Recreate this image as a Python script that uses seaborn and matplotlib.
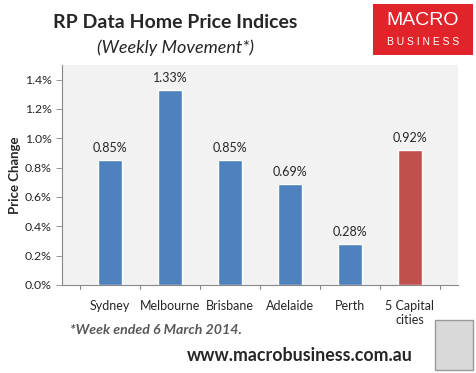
import matplotlib
matplotlib.use("Agg")
import matplotlib.pyplot as plt
from matplotlib.patches import Rectangle
import seaborn as sns
import pandas as pd

# --- data ---
cities = ["Sydney", "Melbourne", "Brisbane", "Adelaide", "Perth", "5 Capital\ncities"]
changes = [0.85, 1.33, 0.85, 0.69, 0.28, 0.92]
bar_colors = ["#4F81BD", "#4F81BD", "#4F81BD", "#4F81BD", "#4F81BD", "#C0504D"]
yticks = [0.0, 0.2, 0.4, 0.6, 0.8, 1.0, 1.2, 1.4]

df = pd.DataFrame({"city": cities, "change": changes})

sns.set_theme(style="white")
plt.rcParams["font.family"] = ["Lato", "DejaVu Sans"]

fig = plt.figure(figsize=(4.77, 3.73), dpi=100)
ax = fig.add_axes([0.130, 0.236, 0.830, 0.590])

sns.barplot(data=df, x="city", y="change", hue="city", palette=bar_colors,
            width=0.4, legend=False, ax=ax, saturation=1)

ax.set_facecolor("#F2F2F2")
ax.set_ylim(0, 1.5)
ax.set_yticks(yticks)
ax.set_yticklabels([f"{v:.1f}%" for v in yticks], fontsize=8.8)
ax.set_xlabel("")
ax.set_ylabel("Price Change", fontsize=9.5, fontweight="bold", labelpad=3)
ax.tick_params(axis="x", labelsize=9, length=0, pad=11)
ax.tick_params(axis="y", length=4, direction="out", left=True, width=0.6, color="#888888")

for s in ["top", "right"]:
    ax.spines[s].set_visible(False)
for s in ["left", "bottom"]:
    ax.spines[s].set_color("#888888")
    ax.spines[s].set_linewidth(0.8)

# little category tick marks between bars
for i in range(len(cities) + 1):
    ax.plot([i - 0.5, i - 0.5], [0, -0.03], color="#888888", lw=0.8,
            clip_on=False)

for i, v in enumerate(changes):
    ax.text(i, v + 0.04, f"{v:.2f}%", ha="center", va="bottom", fontsize=9)

# titles
fig.text(0.367, 0.94, "RP Data Home Price Indices", ha="center", va="center",
         fontsize=14, fontweight="bold")
fig.text(0.367, 0.873, "(Weekly Movement*)", ha="center", va="center",
         fontsize=13, style="italic")

# logo box
fig.patches.append(Rectangle((0.782, 0.852), 0.210, 0.138, transform=fig.transFigure,
                             facecolor="#E0242A", edgecolor="none"))
fig.text(0.887, 0.945, "MACRO", ha="center", va="center", color="white",
         fontsize=14, family=["Liberation Sans"])
fig.text(0.887, 0.888, "B U S I N E S S", ha="center", va="center", color="white",
         fontsize=7.5, family=["Liberation Sans"])

# footnote and url
fig.text(0.147, 0.115, "*Week ended 6 March 2014.", ha="left", va="center",
         fontsize=10.2, fontweight="bold", style="italic", color="#595959")
fig.text(0.392, 0.048, "www.macrobusiness.com.au", ha="left", va="center",
         fontsize=12.8, fontweight="bold")

# fox picture placeholder
fig.patches.append(Rectangle((0.912, 0.008), 0.080, 0.135, transform=fig.transFigure,
                             facecolor="#D9D9D9", edgecolor="#999999", lw=1))

fig.savefig("out.png", dpi=100)
